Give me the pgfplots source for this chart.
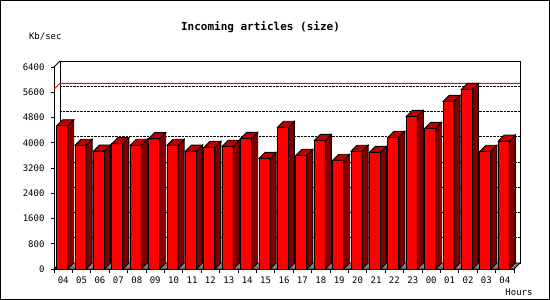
\documentclass[border=0pt]{standalone}
\usepackage{pgfplots}
\pgfplotsset{compat=1.18}
\usepackage{pgfplotstable}
\usepackage{fontspec}
\setmainfont{DejaVu Sans Mono}
\definecolor{frontcol}{RGB}{255,0,0}
\definecolor{topcol}{RGB}{192,0,0}
\definecolor{sidecol}{RGB}{128,0,0}
\definecolor{floorcol}{RGB}{128,128,128}

\pgfplotstableread{
x v
0 4540
1 3920
2 3740
3 3970
4 3920
5 4130
6 3920
7 3735
8 3855
9 3890
10 4140
11 3505
12 4490
13 3600
14 4075
15 3445
16 3730
17 3695
18 4170
19 4835
20 4455
21 5310
22 5692
23 3730
24 4055
}\data

\pgfdeclareplotmark{bar3d}{%
  \pgfmathsetmacro\hh{\val*0.0315625}%
  \pgfsetlinewidth{0.9pt}%
  \pgfsetstrokecolor{black}%
  % side face
  \pgfsetfillcolor{sidecol}%
  \pgfpathmoveto{\pgfpoint{4.5pt}{-\hh pt}}%
  \pgfpathlineto{\pgfpoint{10.5pt}{-\hh pt+6pt}}%
  \pgfpathlineto{\pgfpoint{10.5pt}{6pt}}%
  \pgfpathlineto{\pgfpoint{4.5pt}{0pt}}%
  \pgfpathclose
  \pgfusepath{fill,stroke}%
  % top face
  \pgfsetfillcolor{topcol}%
  \pgfpathmoveto{\pgfpoint{-6.5pt}{0pt}}%
  \pgfpathlineto{\pgfpoint{4.5pt}{0pt}}%
  \pgfpathlineto{\pgfpoint{10.5pt}{6pt}}%
  \pgfpathlineto{\pgfpoint{-0.5pt}{6pt}}%
  \pgfpathclose
  \pgfusepath{fill,stroke}%
}

\begin{document}
\begin{tikzpicture}
\path[use as bounding box] (0,0) rectangle (550pt,300pt);
\fill[white] (0,0) rectangle (550pt,300pt);
\draw[line width=1pt] (0.5pt,0.5pt) rectangle (549.5pt,299.5pt);
\node[font=\fontsize{11}{12}\selectfont\bfseries] at (260.5pt,273pt) {Incoming articles (size)};
\node[font=\fontsize{9}{10}\selectfont] at (45.3pt,263pt) {Kb/sec};
\node[font=\fontsize{9}{10}\selectfont] at (519pt,7.7pt) {Hours};
\begin{axis}[
  at={(54pt,31pt)}, anchor=south west,
  scale only axis, width=460pt, height=202pt,
  xmin=-0.5, xmax=24.5, ymin=0, ymax=6400,
  axis x line*=bottom, axis y line*=left,
  axis line style={line width=0.9pt, black},
  ytick={0,800,...,6400},
  xtick={0,...,24},
  xticklabels={04,05,06,07,08,09,10,11,12,13,14,15,16,17,18,19,20,21,22,23,00,01,02,03,04},
  minor xtick={-0.5,0.5,...,24.5},
  tick align=outside,
  major x tick style={draw=none},
  major tick length=3pt, minor tick length=4pt,
  every tick/.style={black, line width=0.9pt},
  minor tick style={black, line width=0.9pt},
  ymajorgrids,
  major grid style={densely dotted, black, line width=0.9pt, xshift=6pt, yshift=6pt},
  /pgf/number format/assume math mode=true,
  /pgf/number format/1000 sep={},
  tick label style={font=\fontsize{9}{10}\selectfont},
  y tick label style={xshift=-3pt},
  x tick label style={yshift=-1pt},
  clip=false,
]
% back plane
\draw[line width=0.9pt] ([shift={(6pt,6pt)}]axis cs:-0.5,0) rectangle ([shift={(6pt,6pt)}]axis cs:24.5,6400);
\draw[line width=0.9pt] (axis cs:-0.5,6400) -- ++(6pt,6pt);
% max line
\draw[red, line width=0.9pt] (axis cs:-0.5,5692) -- ++(6pt,6pt) -- ([shift={(6pt,6pt)}]axis cs:24.5,5692);
% floor
\filldraw[fill=floorcol, draw=black, line width=0.9pt] (axis cs:-0.5,0) -- (axis cs:24.5,0) -- ([shift={(6pt,6pt)}]axis cs:24.5,0) -- ([shift={(6pt,6pt)}]axis cs:-0.5,0) -- cycle;
% front faces
\addplot[ybar, bar width=11pt, bar shift=-1pt, fill=frontcol, draw=black, line width=0.9pt] table[x=x, y=v] {\data};
% top and side faces
\addplot[scatter, only marks, mark=bar3d, visualization depends on={\thisrow{v} \as \val}, scatter/use mapped color={draw=black, fill=black}] table[x=x, y=v] {\data};
\end{axis}
\end{tikzpicture}
\end{document}
